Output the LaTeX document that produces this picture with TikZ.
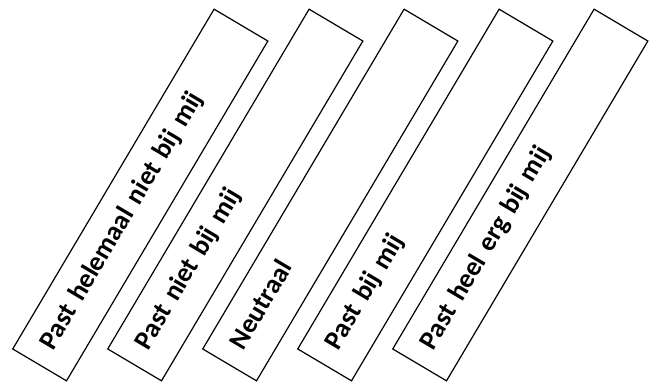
\documentclass[tikz,border=0pt]{standalone}
\usepackage{fontspec}
\setmainfont{Carlito}
\usetikzlibrary{positioning}

\begin{document}
\begin{tikzpicture}[
    x=1pt, y=-1pt,
    bar/.style={rectangle, draw=black, line width=1.2pt, rotate=59.35,
        minimum width=395pt, minimum height=62.5pt, inner xsep=19pt,
        text width=357pt, align=left, text height=17pt, text depth=7pt,
        font=\fontsize{27}{32}\selectfont\bfseries}
]
    \useasboundingbox (0,0) rectangle (659,385);

    \node[bar] (helemaalniet) at (140.3,195) {Past helemaal niet bij mij};
    \node[bar] (niet) at (235.3,195) {Past niet bij mij};
    \node[bar] (neutraal) at (330.3,195) {Neutraal};
    \node[bar] (wel) at (425.3,195) {Past bij mij};
    \node[bar] (heelerg) at (520.3,195) {Past heel erg bij mij};
\end{tikzpicture}
\end{document}
